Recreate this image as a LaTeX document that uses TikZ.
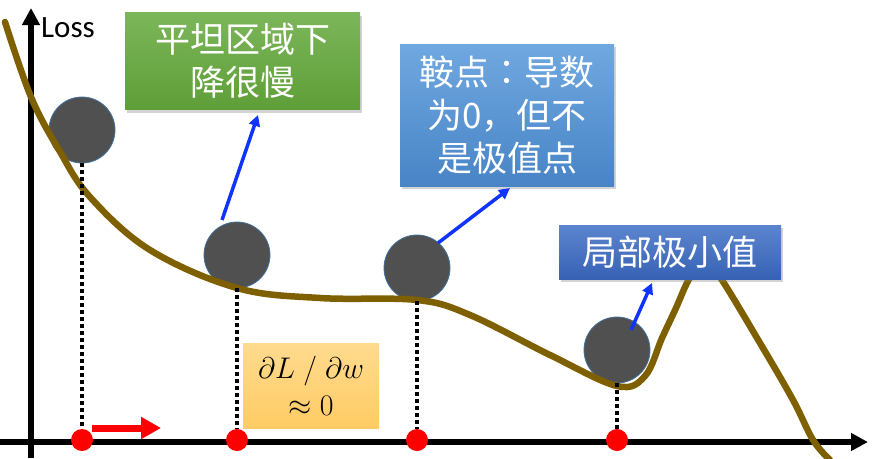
\documentclass[tikz,border=0pt]{standalone}
\usepackage{graphicx}
\usepackage{fontspec}
\setmainfont{Carlito}
\newfontfamily\cjk{Noto Sans CJK SC}
\newfontfamily\cjktc{Noto Sans CJK TC}
\usetikzlibrary{arrows.meta,shadows}
\definecolor{curvec}{HTML}{7F6000}
\definecolor{ballc}{HTML}{505050}
\definecolor{ballb}{HTML}{41719C}
\definecolor{arrb}{HTML}{1034FF}
\tikzset{
  ball/.style={circle,fill=ballc,draw=ballb,line width=0.8pt,minimum size=66pt,inner sep=0pt},
  rdot/.style={circle,fill=red,minimum size=22pt,inner sep=0pt},
  vdots/.style={line width=3.5pt,dash pattern=on 3.5pt off 3.5pt},
  tbox/.style={rectangle,inner sep=0pt,text=white,align=center,
     font=\cjk\fontsize{35}{43}\selectfont,
     drop shadow={shadow xshift=2pt,shadow yshift=-3pt,opacity=0.35}},
  barrow/.style={arrb,line width=3.5pt,-{Triangle[length=11pt,width=11pt]}},
  axisline/.style={line width=6pt,-{Triangle[length=17pt,width=17pt]}},
}
\begin{document}
\begin{tikzpicture}[x=1pt,y=-1pt]
\useasboundingbox (0,0) rectangle (872,458);
% axes
\coordinate (yb) at (31,458);
\coordinate (yt) at (31,8);
\coordinate (xl) at (0,442);
\coordinate (xr) at (868,442);
\draw[axisline] (yb) -- (yt);
\draw[axisline] (xl) -- (xr);
\node[anchor=west,font=\fontsize{31}{34}\selectfont,inner sep=0pt] (loss) at (41,28) {Loss};
% balls
\node[ball] (b1) at (82,130) {};
\node[ball] (b2) at (237,255) {};
\node[ball] (b3) at (417,268) {};
\node[ball] (b4) at (617,350) {};
% curve
\draw[curvec,line width=6.5pt,line cap=round] plot[smooth,tension=0.6] coordinates {
 (5,22) (31,97) (59,150) (90,197) (150,250) (237,288) (320,298) (417,300)
 (470,315) (550,355) (617,386) (645,376) (662,338) (676,308) (688,281)
 (703,258) (720,277) (760,343) (793,400) (813,440) (830,460)};
% red dots
\node[rdot] (d1) at (82,440) {};
\node[rdot] (d2) at (237,440) {};
\node[rdot] (d3) at (417,440) {};
\node[rdot] (d4) at (617,440) {};
% dotted lines
\draw[vdots] (b1.south) -- (d1.north);
\draw[vdots] (b2.south) -- (d2.north);
\draw[vdots] (b3.south) -- (d3.north);
\draw[vdots] (b4.south) -- (d4.north);
% red arrow
\coordinate (ra1) at (92,428);
\coordinate (ra2) at (161,428);
\draw[red,line width=7pt,-{Triangle[length=20pt,width=21pt]}] (ra1) -- (ra2);
% boxes
\node[tbox,top color={rgb,255:red,124;green,182;blue,90},bottom color={rgb,255:red,94;green,158;blue,55},
  minimum width=235pt,minimum height=97pt] (g) at (242.5,61) {平坦区域下\\降很慢};
\node[tbox,top color={rgb,255:red,112;green,168;blue,224},bottom color={rgb,255:red,72;green,132;blue,198},
  minimum width=214pt,minimum height=142pt] (s) at (507,115) {鞍点{\cjktc ：}导数\\为0，但不\\是极值点};
\node[tbox,top color={rgb,255:red,92;green,133;blue,207},bottom color={rgb,255:red,55;green,98;blue,180},
  minimum width=222pt,minimum height=54pt] (m) at (670,252) {局部极小值};
\node[rectangle,inner sep=0pt,top color={rgb,255:red,255;green,219;blue,143},bottom color={rgb,255:red,255;green,203;blue,100},
  minimum width=136pt,minimum height=85pt,align=center,font=\fontsize{24.88}{30}\selectfont] (o) at (311,385.5)
  {\scalebox{1.2}{$\partial L\;/\;\partial w$}\\[7pt]\scalebox{1.2}{$\approx 0$}};
% blue arrows
\coordinate (a1s) at (222,220);
\coordinate (a1e) at (258,115);
\coordinate (a2s) at (438,243);
\coordinate (a2e) at (510,188);
\coordinate (a3s) at (631,330);
\coordinate (a3e) at (652,283);
\draw[barrow] (a1s) -- (a1e);
\draw[barrow] (a2s) -- (a2e);
\draw[barrow] (a3s) -- (a3e);
\end{tikzpicture}
\end{document}
